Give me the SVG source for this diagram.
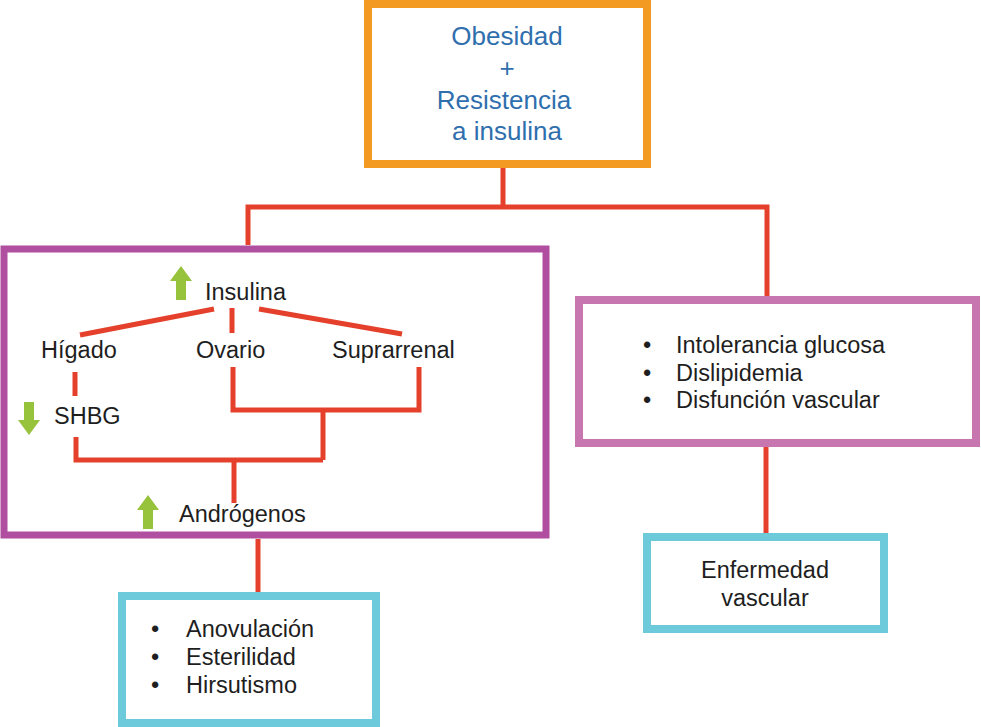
<svg xmlns="http://www.w3.org/2000/svg" width="981" height="727" viewBox="0 0 981 727">
<style>
text{font-family:"Liberation Sans",Arial,sans-serif;font-size:23.5px;fill:#1e1e1e}
.blue{fill:#2F6FAE;font-size:26px}
.box{fill:#fff;stroke-width:8}
.con{stroke:#E5402B;stroke-width:5;fill:none}
.arrow{fill:#97C23C}
.mid{text-anchor:middle}
</style>
<rect width="981" height="727" fill="#fff"/>
<g id="obesidad">
<rect class="box" x="368" y="4" width="279" height="160" stroke="#F39A22"/>
<text class="blue mid" x="507" y="45">Obesidad</text>
<text class="blue mid" x="507" y="77">+</text>
<text class="blue mid" x="504" y="109">Resistencia</text>
<text class="blue mid" x="507" y="140">a insulina</text>
</g>
<g id="hormonas">
<rect class="box" x="4" y="249" width="542" height="286" stroke="#B04FA0" style="stroke-width:7"/>
<polygon class="arrow" points="181,266 192,281 186,281 186,300 176,300 176,281 170,281"/>
<text x="205" y="300">Insulina</text>
<text x="41" y="358">Hígado</text>
<text x="196" y="358">Ovario</text>
<text x="332" y="358">Suprarrenal</text>
<polygon class="arrow" points="29,435 40,420 34,420 34,402 24,402 24,420 18,420"/>
<text x="54" y="424">SHBG</text>
<polygon class="arrow" points="148,495 159,510 153,510 153,529 143,529 143,510 137,510"/>
<text x="179" y="522">Andrógenos</text>
</g>
<g id="metabolico">
<rect class="box" x="579" y="300" width="397" height="143" stroke="#C776B0"/>
<text x="643" y="353">•</text><text x="676" y="353">Intolerancia glucosa</text>
<text x="643" y="381">•</text><text x="676" y="381">Dislipidemia</text>
<text x="643" y="408">•</text><text x="676" y="408">Disfunción vascular</text>
</g>
<g id="reproductivo">
<rect class="box" x="122" y="596" width="254" height="127" stroke="#6DCADB"/>
<text x="151" y="637">•</text><text x="186" y="637">Anovulación</text>
<text x="151" y="665">•</text><text x="186" y="665">Esterilidad</text>
<text x="151" y="693">•</text><text x="186" y="693">Hirsutismo</text>
</g>
<g id="vascular">
<rect class="box" x="647" y="537" width="237" height="92" stroke="#6DCADB"/>
<text class="mid" x="765" y="578">Enfermedad</text>
<text class="mid" x="765" y="606">vascular</text>
</g>
<g id="connectors">
<polyline class="con" points="503,168 503,207"/>
<polyline class="con" points="248,245 248,207 767,207 767,296"/>
<polyline class="con" points="258,539 258,592"/>
<polyline class="con" points="766,447 766,533"/>
<line class="con" x1="80" y1="335" x2="214" y2="309"/>
<line class="con" x1="232" y1="308" x2="232" y2="333"/>
<line class="con" x1="259" y1="309" x2="402" y2="334"/>
<line class="con" x1="75" y1="372" x2="75" y2="396"/>
<polyline class="con" points="233,367 233,410 419,410 419,367"/>
<polyline class="con" points="323,410 323,460"/>
<polyline class="con" points="76,437 76,460 323,460"/>
<line class="con" x1="234" y1="460" x2="234" y2="503"/>
</g>
</svg>
